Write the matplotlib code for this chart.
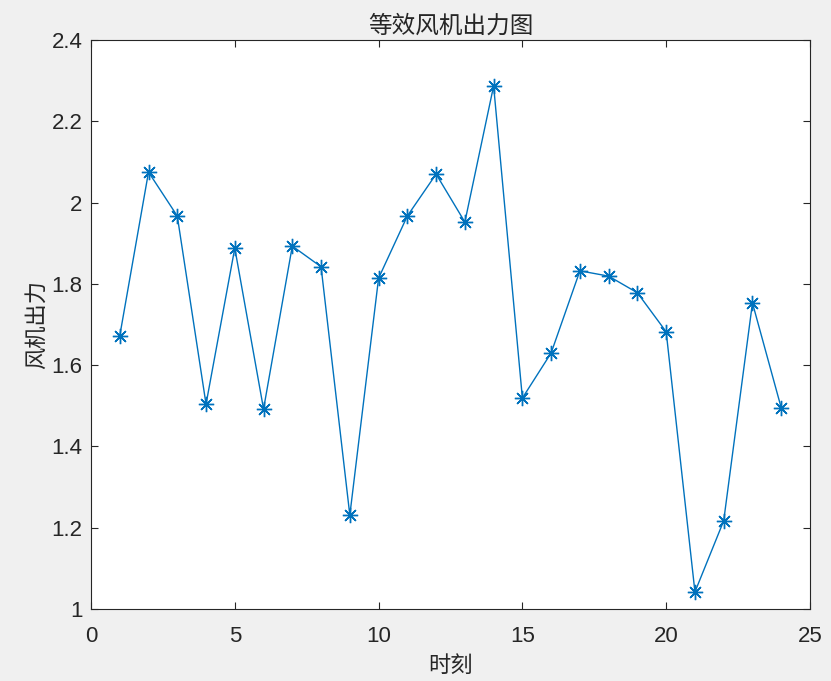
import matplotlib
matplotlib.use("Agg")
import matplotlib.pyplot as plt

plt.rcParams['font.family'] = ['Liberation Sans', 'Noto Sans CJK SC', 'DejaVu Sans']

# time steps and equivalent wind turbine output
hours = list(range(1, 25))
power = [1.672, 2.075, 1.967, 1.504, 1.888, 1.492, 1.893, 1.842,
         1.231, 1.814, 1.967, 2.070, 1.952, 2.287, 1.519, 1.630,
         1.832, 1.819, 1.778, 1.682, 1.042, 1.217, 1.753, 1.495]
xticks = [0, 5, 10, 15, 20, 25]
yticks = [1, 1.2, 1.4, 1.6, 1.8, 2, 2.2, 2.4]
yticklabels = ["1", "1.2", "1.4", "1.6", "1.8", "2", "2.2", "2.4"]

fig = plt.figure(figsize=(8.31, 6.81), dpi=100, facecolor="#f0f0f0")
ax = fig.add_axes([0.1095, 0.1057, 0.8652, 0.8356])

# MATLAB-style asterisk marker (8 arms)
ax.plot(hours, power, color="#0072BD", lw=1.0, marker=(8, 2, 0),
        markersize=11, markeredgewidth=1.0)

ax.set_xlim(0, 25)
ax.set_ylim(1, 2.4)
ax.set_xticks(xticks)
ax.set_yticks(yticks)
ax.set_yticklabels(yticklabels)
ax.tick_params(direction="in", top=True, right=True, length=5,
               labelsize=16, colors="#262626", width=0.8)
ax.tick_params(axis="x", pad=12)
ax.tick_params(axis="y", pad=6)
for s in ax.spines.values():
    s.set_color("#262626")
    s.set_linewidth(0.8)

ax.set_title("等效风机出力图", fontsize=17, color="#262626", pad=5)
ax.set_xlabel("时刻", fontsize=16, color="#262626", labelpad=7)
ax.set_ylabel("风机出力", fontsize=16, color="#262626", labelpad=3)

fig.savefig("out.png", dpi=100, facecolor=fig.get_facecolor())
